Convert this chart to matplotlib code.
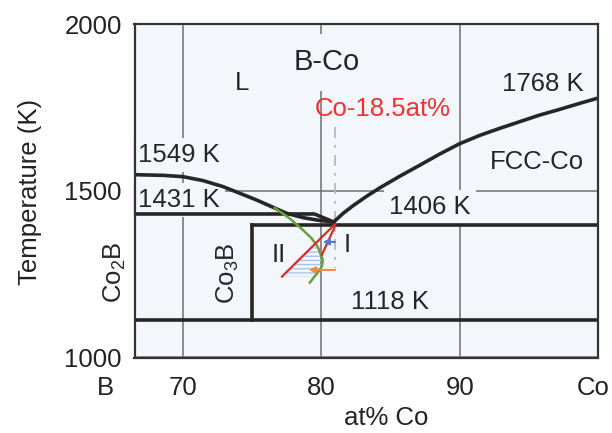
import matplotlib
matplotlib.use("Agg")
import matplotlib.pyplot as plt
import numpy as np

plt.rcParams['font.family'] = ['Liberation Sans', 'DejaVu Sans']
plt.rcParams['mathtext.fontset'] = 'custom'
plt.rcParams['mathtext.rm'] = 'Liberation Sans'
plt.rcParams['mathtext.it'] = 'Liberation Sans:italic'
plt.rcParams['hatch.linewidth'] = 1.0

# ---- data ----
x_min, x_max = 66.5, 100.0
t_min, t_max = 1000, 2000

xticks = [70, 80, 90]
xtick_labels = ['70', '80', '90']
yticks = [1000, 1500, 2000]
ytick_labels = ['1000', '1500', '2000']

# left liquidus (from 1549 K to eutectic)
liq_left_x = [66.5, 68.58, 70.02, 71.47, 72.91, 74.12, 75.32, 76.52, 77.49, 78.69, 79.66, 80.62, 80.9]
liq_left_t = [1549, 1547, 1543, 1531, 1513, 1493, 1473, 1451, 1433, 1420, 1413, 1408, 1407]
# right liquidus (eutectic to Co melting point)
liq_right_x = [80.9, 81.58, 82.30, 83.27, 84.25, 85.70, 87.14, 88.56, 90.0, 91.45,
               92.89, 94.33, 95.78, 97.22, 98.66, 100.0]
liq_right_t = [1407, 1433, 1456, 1484, 1510, 1545, 1578, 1611, 1642, 1667,
               1688, 1708, 1728, 1745, 1763, 1779]
# 1431 K line
l1431_x = [66.5, 79.5, 80.9]
l1431_t = [1431, 1431, 1407]
# 1406 K eutectic line
l1406_x = [75.0, 100.0]
l1406_t = [1398, 1398]
# Co3B vertical
co3b_x = [75.0, 75.0]
co3b_t = [1398, 1114]
# 1118 K line
l1118_x = [66.5, 100.0]
l1118_t = [1114, 1114]
# composition line Co-18.5 at% B
comp_x = [81.0, 81.0]
comp_t = [1692, 1268]

# green (metastable extension) curve
green_x = [76.64, 77.7, 78.67, 79.3, 79.75, 80.11, 80.05, 79.89, 79.17]
green_t = [1449, 1418, 1383, 1358, 1332, 1293, 1275, 1263, 1225]
# red lines I and II
red2_x = [77.16, 80.98]
red2_t = [1243, 1400]
red1_x = [80.04, 81.0]
red1_t = [1308, 1395]
# hatched region range
hatch_t = [1243, 1335]
# arrows (start x, end x, T)
blue_arrow = (81.0, 80.1, 1347)
orange_arrow = (81.0, 79.1, 1263)

bg = '#f3f7fc'
line_c = '#262626'

fig = plt.figure(figsize=(6.12, 4.33), dpi=100)
ax = fig.add_axes([134.5/612, 1-357.5/433, (598-134.5)/612, (357.5-24.5)/433])
ax.set_facecolor(bg)
ax.set_xlim(x_min, x_max)
ax.set_ylim(t_min, t_max)

ax.set_xticks(xticks, xtick_labels)
ax.set_yticks(yticks, ytick_labels)
ax.tick_params(axis='x', length=0, pad=13.5, labelsize=18.5, colors='#222222')
ax.tick_params(axis='y', length=0, pad=9, labelsize=18.5, colors='#222222')
ax.set_axisbelow(True)
ax.grid(True, color='#6e6e6e', lw=1.1)
for s in ax.spines.values():
    s.set_color('#333333')
    s.set_linewidth(1.6)
    s.set_zorder(6)

# phase-diagram lines
lw = 2.6
ax.plot(liq_left_x, liq_left_t, color=line_c, lw=lw, zorder=5, solid_joinstyle='round')
ax.plot(liq_right_x, liq_right_t, color=line_c, lw=lw, zorder=5, solid_joinstyle='round')
ax.plot(l1431_x, l1431_t, color=line_c, lw=lw, zorder=5)
ax.plot(l1406_x, l1406_t, color=line_c, lw=lw, zorder=5)
ax.plot(co3b_x, co3b_t, color=line_c, lw=lw, zorder=5)
ax.plot(l1118_x, l1118_t, color=line_c, lw=lw, zorder=5)
ax.plot(comp_x, comp_t, color='#b8b8b8', lw=1.3, ls=(0, (6, 4, 1.5, 4)), zorder=4)

# hatched region between red line II and green curve
tt = np.linspace(hatch_t[0], hatch_t[1], 30)
xl = np.interp(tt, red2_t, red2_x)
g_order = np.argsort(green_t)
xr = np.interp(tt, np.array(green_t)[g_order], np.array(green_x)[g_order])
ax.fill_betweenx(tt, xl, xr, facecolor='none', edgecolor='#a6c6ee', hatch='----', lw=0, zorder=4)

ax.plot(green_x, green_t, color='#6a9f3c', lw=1.8, zorder=6, solid_joinstyle='round')
ax.plot(red2_x, red2_t, color='#e0282a', lw=1.6, zorder=7)
ax.plot(red1_x, red1_t, color='#e0282a', lw=1.6, zorder=7)
ax.annotate('', xy=(blue_arrow[1], blue_arrow[2]), xytext=(blue_arrow[0], blue_arrow[2]),
            arrowprops=dict(arrowstyle='-|>', color='#4a7fd4', lw=1.5, mutation_scale=9,
                            shrinkA=0, shrinkB=0), zorder=8)
ax.annotate('', xy=(orange_arrow[1], orange_arrow[2]), xytext=(orange_arrow[0], orange_arrow[2]),
            arrowprops=dict(arrowstyle='-|>', color='#f08a3c', lw=1.5, mutation_scale=9,
                            shrinkA=0, shrinkB=0), zorder=8)

box = dict(boxstyle='square,pad=0.2', facecolor=bg, edgecolor='none')
fs = 18.5
txt = '#262626'
ax.text(66.75, 1608, '1549 K', fontsize=fs, ha='left', va='center', color=txt, bbox=box, zorder=4)
ax.text(66.75, 1473, '1431 K', fontsize=fs, ha='left', va='center', color=txt, bbox=box, zorder=4)
ax.text(87.85, 1452, '1406 K', fontsize=fs, ha='center', va='center', color=txt, bbox=box, zorder=4)
ax.text(96.0, 1820, '1768 K', fontsize=fs, ha='center', va='center', color=txt, bbox=box, zorder=4)
ax.text(95.6, 1587, 'FCC-Co', fontsize=fs, ha='center', va='center', color=txt, bbox=box, zorder=4)
ax.text(85.0, 1168, '1118 K', fontsize=fs, ha='center', va='center', color=txt, bbox=box, zorder=4)
ax.text(74.26, 1823, 'L', fontsize=fs, ha='center', va='center', color=txt, bbox=box, zorder=4)
ax.text(80.4, 1886, 'B-Co', fontsize=21, ha='center', va='center', color=txt,
        bbox=dict(boxstyle='square,pad=0.5', facecolor=bg, edgecolor='none'), zorder=4)
ax.text(84.45, 1746, 'Co-18.5at%', fontsize=fs, ha='center', va='center', color='#f03232', zorder=4)
ax.text(73.25, 1254, r'Co$_\mathrm{3}$B', fontsize=fs, ha='center', va='center', rotation=90,
        color=txt, bbox=box, zorder=4)
ax.text(65.1, 1257, r'Co$_\mathrm{2}$B', fontsize=fs, ha='center', va='center', rotation=90,
        color=txt, clip_on=False)
ax.text(81.85, 1338, 'I', fontsize=fs, ha='center', va='center', color=txt, zorder=4)
ax.text(76.9, 1308, 'II', fontsize=fs, ha='center', va='center', color=txt, zorder=4)

# end-member labels on the x axis
ax.annotate('B', xy=(x_min, 0), xycoords=ax.get_xaxis_transform(), xytext=(-21.2, -13.5),
            textcoords='offset points', ha='center', va='top', fontsize=fs, color='#222222')
ax.annotate('Co', xy=(x_max, 0), xycoords=ax.get_xaxis_transform(), xytext=(-3.6, -13.5),
            textcoords='offset points', ha='center', va='top', fontsize=fs, color='#222222')

fig.text(30.5/612, 1-192/433, 'Temperature (K)', rotation=90, ha='center', va='center',
         fontsize=18.5, color='#222222')
fig.text(386/612, 1-418/433, 'at% Co', ha='center', va='center', fontsize=18.5, color='#222222')

fig.savefig('out.png', dpi=100)
